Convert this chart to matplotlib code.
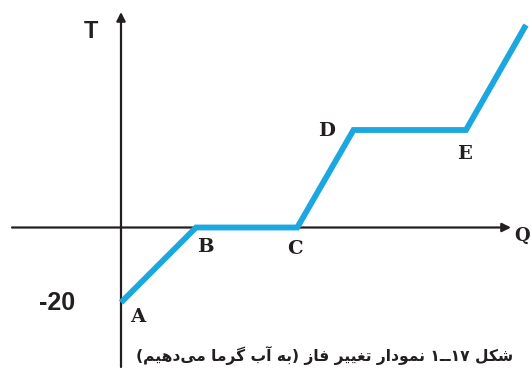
import re
import matplotlib
matplotlib.use("Agg")
import matplotlib.pyplot as plt

# ---- data ----
heat_q = [0, 20, 47, 62, 92, 108]          # Q (heat added), schematic units
temp_t = [-20, 0, 0, 26, 26, 54]           # T, same schematic scale as the -20 mark
point_names = ["A", "B", "C", "D", "E"]
ytick_values = [-20]
ytick_labels = ["-20"]
x_axis_label = "Q"
y_axis_label = "T"
caption = "شکل ۱۷ــ۱ نمودار تغییر فاز (به آب گرما می\u200cدهیم)"

# ---- minimal Arabic-script shaping (matplotlib does no shaping / bidi) ----
FORMS = {
    '\u0634': '\uFEB5\uFEB6\uFEB7\uFEB8',
    '\u06A9': '\uFB8E\uFB8F\uFB90\uFB91',
    '\u0644': '\uFEDD\uFEDE\uFEDF\uFEE0',
    '\u0646': '\uFEE5\uFEE6\uFEE7\uFEE8',
    '\u0645': '\uFEE1\uFEE2\uFEE3\uFEE4',
    '\u0648': '\uFEED\uFEEE',
    '\u062F': '\uFEA9\uFEAA',
    '\u0627': '\uFE8D\uFE8E',
    '\u0631': '\uFEAD\uFEAE',
    '\u062A': '\uFE95\uFE96\uFE97\uFE98',
    '\u063A': '\uFECD\uFECE\uFECF\uFED0',
    '\u06CC': '\uFBFC\uFBFD\uFBFE\uFBFF',
    '\u0641': '\uFED1\uFED2\uFED3\uFED4',
    '\u0632': '\uFEAF\uFEB0',
    '\u0628': '\uFE8F\uFE90\uFE91\uFE92',
    '\u0647': '\uFEE9\uFEEA\uFEEB\uFEEC',
    '\u0622': '\uFE81\uFE82',
    '\u06AF': '\uFB92\uFB93\uFB94\uFB95',
}
TATWEEL = '\u0640'


def shape_rtl(s):
    out = []
    for i, c in enumerate(s):
        if c not in FORMS:
            out.append(c)
            continue
        prev = s[i - 1] if i > 0 else ''
        nxt = s[i + 1] if i + 1 < len(s) else ''
        jp = (prev in FORMS and len(FORMS[prev]) == 4) or prev == TATWEEL
        jn = len(FORMS[c]) == 4 and (nxt in FORMS or nxt == TATWEEL)
        idx = 3 if (jp and jn) else 1 if jp else 2 if jn else 0
        out.append(FORMS[c][idx])
    s2 = ''.join(out).replace('\u200c', '')
    rev = s2[::-1]
    rev = re.sub(r'[0-9\u06F0-\u06F9]+', lambda m: m.group(0)[::-1], rev)
    return rev.translate(str.maketrans('()', ')('))


# ---- figure ----
W, H = 531, 369
fig = plt.figure(figsize=(W / 100, H / 100), dpi=100)
fig.patch.set_facecolor("white")
ax = fig.add_axes([0, 0, 1, 1])
ax.set_axis_off()

S = 3.75             # pixels per unit
ox, oy = 121, 227.5  # pixel position of the origin
ax.set_xlim(-ox / S, (W - ox) / S)
ax.set_ylim((oy - H) / S, oy / S)

axis_col = "#231f20"
arrow = dict(arrowstyle="-|>", lw=1.6, color=axis_col, mutation_scale=13,
             shrinkA=0, shrinkB=0)
# horizontal (Q) axis
ax.annotate("", xy=((511 - ox) / S, 0), xytext=((12 - ox) / S, 0), arrowprops=arrow)
# vertical (T) axis
ax.annotate("", xy=(0, (oy - 12) / S), xytext=(0, (oy - 367) / S), arrowprops=arrow)

# phase-change curve
ax.plot(heat_q, temp_t, color="#1ba8e0", lw=4.2, solid_joinstyle="miter",
        solid_capstyle="butt", zorder=3)

# point labels
offsets = [(17, -15), (9, -19), (-2, -21), (-27, -1), (-1, -24)]
for name, q, t, off in zip(point_names, heat_q, temp_t, offsets):
    ax.annotate(name, xy=(q, t), xytext=off, textcoords="offset pixels",
                ha="center", va="center", fontsize=14, fontweight="bold",
                family="DejaVu Serif", color="#231f20")

# y tick label
for v, lab in zip(ytick_values, ytick_labels):
    ax.annotate(lab, xy=(0, v), xytext=(-46, 0), textcoords="offset pixels",
                ha="right", va="center", fontsize=18, fontweight="heavy",
                family="Liberation Sans", color="#231f20")

# axis names
ax.text((91 - ox) / S, (oy - 32) / S, y_axis_label, ha="center", va="center",
        fontsize=17, fontweight="heavy", family="Liberation Sans", color="#231f20")
ax.text((514 - ox) / S, (oy - 236) / S, x_axis_label, ha="left", va="center",
        fontsize=13, fontweight="bold", family="DejaVu Serif", color="#231f20")

# caption
fig.text(325 / W, 1 - 355 / H, shape_rtl(caption), ha="center", va="center",
         fontsize=11.2, fontweight="bold", family=["DejaVu Sans"], color="#231f20")

fig.savefig("out.png", dpi=100, facecolor="white")
